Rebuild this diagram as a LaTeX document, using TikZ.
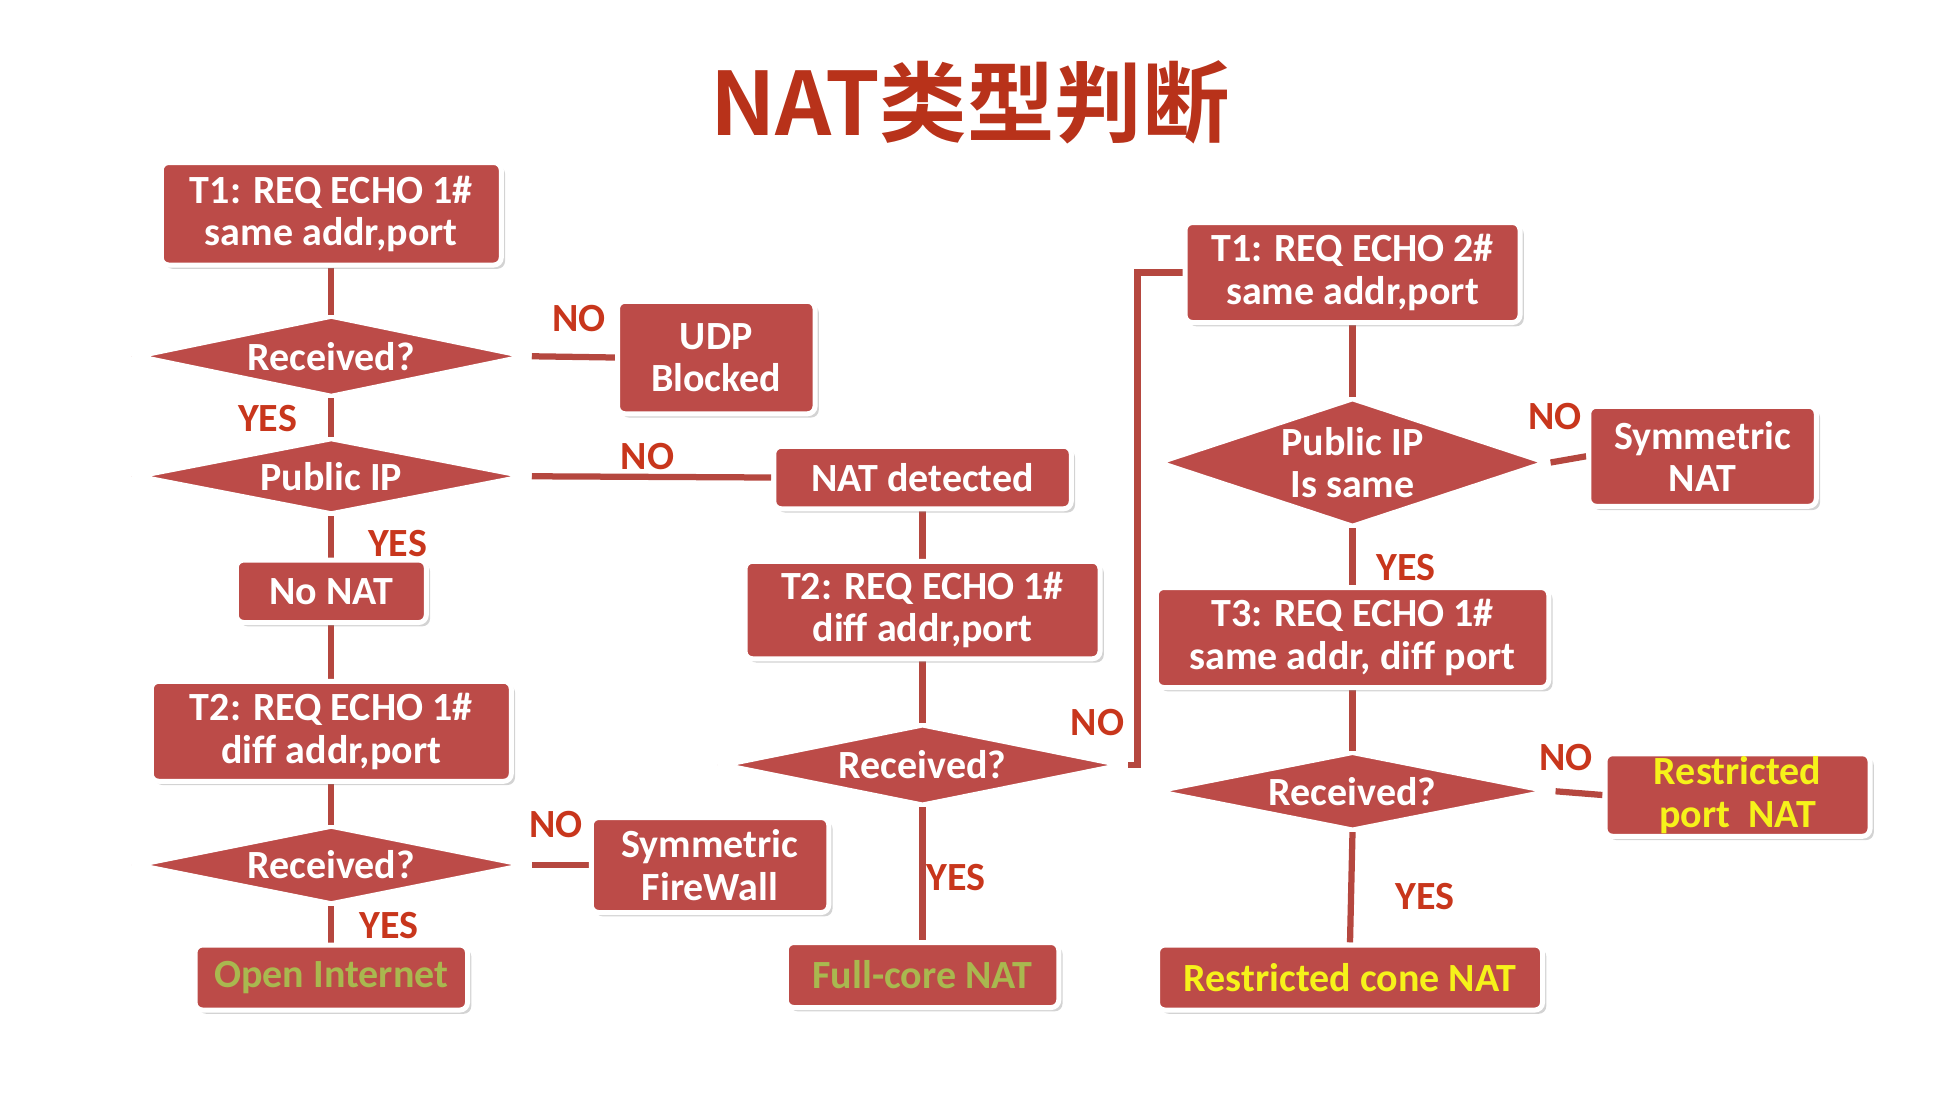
\documentclass[tikz,border=0pt]{standalone}
\usepackage{fontspec}
\setmainfont{Carlito}
\newfontfamily\cjk{Noto Sans CJK SC}[BoldFont={* Bold}]
\usetikzlibrary{shadows,backgrounds}
\definecolor{boxred}{HTML}{BC4B48}
\definecolor{linered}{HTML}{B5473F}
\definecolor{labred}{HTML}{C8361C}
\definecolor{titred}{HTML}{B8321A}
\definecolor{okgreen}{HTML}{A9B84F}
\definecolor{okyellow}{HTML}{F6F21A}
\begin{document}
\begin{tikzpicture}[x=0.5pt,y=-0.5pt,
  box/.style={rectangle,rounded corners=3pt,fill=boxred,draw=white,line width=2pt,
    drop shadow={shadow xshift=1.5pt,shadow yshift=-1.5pt,opacity=0.35},
    text=white,font=\fontsize{16}{17}\selectfont\bfseries,align=center,inner sep=0pt},
  dia/.style={rectangle,inner sep=0pt,
    path picture={\path[fill=boxred,draw=white,line width=3pt]
      (path picture bounding box.north) -- (path picture bounding box.east) --
      (path picture bounding box.south) -- (path picture bounding box.west) -- cycle;},
    text=white,font=\fontsize{16}{17}\selectfont\bfseries,align=center},
  lab/.style={text=labred,font=\fontsize{16}{16}\selectfont\bfseries},
  conn/.style={draw=linered,line width=2.5pt}]
\useasboundingbox (0,0) rectangle (1568,880);
\node[text=titred,font=\cjk\fontsize{35}{35}\selectfont\bfseries] (title) at (776,82) {NAT类型判断};
% left column
\node[box,minimum width=136pt,minimum height=41pt] (a1) at (265,171) {T1: REQ ECHO 1\#\\same addr,port};
\node[dia,minimum width=160pt,minimum height=33pt] (d1) at (265,285) {Received?};
\node[box,minimum width=79pt,minimum height=45pt] (udp) at (573,286) {UDP\\Blocked};
\node[dia,minimum width=160pt,minimum height=31pt] (d2) at (265,381) {Public IP};
\node[box,minimum width=119pt,minimum height=25pt] (natd) at (738,382) {NAT detected};
\node[box,minimum width=76pt,minimum height=25pt] (nonat) at (265,473) {No NAT};
\node[box,minimum width=144pt,minimum height=40pt] (a2) at (265,585) {T2: REQ ECHO 1\#\\diff addr,port};
\node[dia,minimum width=160pt,minimum height=32pt] (d3) at (265,692) {Received?};
\node[box,minimum width=95pt,minimum height=38pt] (sfw) at (568,692) {Symmetric\\FireWall};
\node[box,minimum width=109pt,minimum height=26pt,text=okgreen] (open) at (265,782) {Open Internet};
% middle column
\node[box,minimum width=142pt,minimum height=39pt] (b2) at (738,488) {T2: REQ ECHO 1\#\\diff addr,port};
\node[dia,minimum width=164pt,minimum height=33pt] (d4) at (738,612) {Received?};
\node[box,minimum width=109pt,minimum height=26pt,text=okgreen] (full) at (738,780) {Full-core NAT};
% right column
\node[box,minimum width=134pt,minimum height=40pt] (c1) at (1082,218) {T1: REQ ECHO 2\#\\same addr,port};
\node[dia,minimum width=158pt,minimum height=52pt] (d5) at (1082,370) {Public IP\\Is same};
\node[box,minimum width=91pt,minimum height=40pt] (symnat) at (1362,365) {Symmetric\\NAT};
\node[box,minimum width=157pt,minimum height=40pt] (c3) at (1082,510) {T3: REQ ECHO 1\#\\same addr, diff port};
\node[dia,minimum width=162pt,minimum height=32pt] (d6) at (1082,633) {Received?};
\node[box,minimum width=106pt,minimum height=33pt,text=okyellow] (rpn) at (1390,636) {Restricted\\port~~NAT};
\node[box,minimum width=154pt,minimum height=26pt,text=okyellow] (rcn) at (1080,782) {Restricted cone NAT};
% connectors
\begin{pgfonlayer}{background}
\draw[conn] (a1.south) -- (d1.north);
\draw[conn] (d1.east) -- (udp.west);
\draw[conn] (d1.south) -- (d2.north);
\draw[conn] (d2.east) -- (natd.west);
\draw[conn] (d2.south) -- (nonat.north);
\draw[conn] (nonat.south) -- (a2.north);
\draw[conn] (a2.south) -- (d3.north);
\draw[conn] (d3.east) -- (sfw.west);
\draw[conn] (d3.south) -- (open.north);
\draw[conn] (natd.south) -- (b2.north);
\draw[conn] (b2.south) -- (d4.north);
\draw[conn] (d4.south) -- (full.north);
\coordinate (turn) at (910,612);
\draw[conn] (d4.east) -- (turn) |- (c1.west);
\draw[conn] (c1.south) -- (d5.north);
\draw[conn] (d5.east) -- (symnat.west);
\draw[conn] (d5.south) -- (c3.north);
\draw[conn] (c3.south) -- (d6.north);
\draw[conn] (d6.east) -- (rpn.west);
\draw[conn] (d6.south) -- (rcn.north);
\end{pgfonlayer}
% labels
\node[lab] (l1) at (214,335) {YES};
\node[lab] (l2) at (463,255) {NO};
\node[lab] (l3) at (518,365) {NO};
\node[lab] (l4) at (318,435) {YES};
\node[lab] (l5) at (445,660) {NO};
\node[lab] (l6) at (311,740) {YES};
\node[lab] (l7) at (878,578) {NO};
\node[lab] (l8) at (765,702) {YES};
\node[lab] (l9) at (1244,333) {NO};
\node[lab] (l10) at (1125,454) {YES};
\node[lab] (l11) at (1253,606) {NO};
\node[lab] (l12) at (1140,717) {YES};
\end{tikzpicture}
\end{document}
